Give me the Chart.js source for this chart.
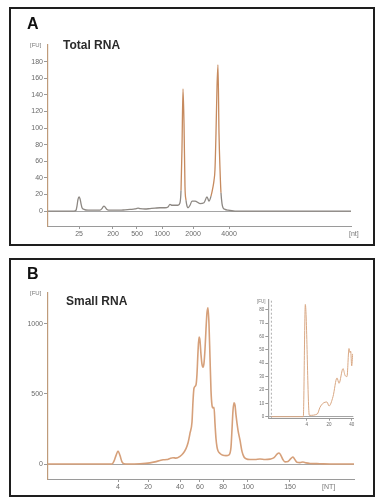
<!DOCTYPE html>
<html>
<head>
<meta charset="utf-8">
<script src="https://cdn.jsdelivr.net/npm/chart.js@4.4.1/dist/chart.umd.min.js"></script>
<style>
  html, body { margin: 0; padding: 0; background: #fff; }
  body { width: 387px; height: 502px; position: relative; overflow: hidden; font-family: "Liberation Sans", Arial, sans-serif; }
  .panel { position: absolute; left: 9px; width: 366px; height: 239px; box-sizing: border-box; border: 2px solid #1e1e1e; }
  canvas, .txt { position: absolute; }
  .txt { line-height: 1; white-space: nowrap; }
  .letter { font-weight: bold; font-size: 16px; color: #111; }
  .title { font-weight: bold; font-size: 12px; color: #2b2b2b; }
  .unit { font-size: 6px; color: #777; }
</style>
</head>
<body>
<div class="panel" style="top:7px"></div>
<div class="panel" style="top:258px"></div>

<canvas id="chartA" width="387" height="250" style="left:0;top:0"></canvas>
<canvas id="chartB" width="387" height="252" style="left:0;top:250px"></canvas>
<canvas id="chartInset" width="110" height="145" style="left:250px;top:290px"></canvas>

<div class="txt letter" style="left:27px;top:16px">A</div>
<div class="txt title" style="left:63px;top:39px">Total RNA</div>
<div class="txt unit" style="left:30px;top:42px">[FU]</div>
<div class="txt unit" style="left:349px;top:230px;font-size:7px">[nt]</div>

<div class="txt letter" style="left:27px;top:266px">B</div>
<div class="txt title" style="left:66px;top:295px">Small RNA</div>
<div class="txt unit" style="left:30px;top:290px">[FU]</div>
<div class="txt unit" style="left:322px;top:483px;font-size:7px">[NT]</div>
<div class="txt unit" style="left:257px;top:300px;font-size:4.5px">[FU]</div>

<script>
// Panel A - Total RNA electropherogram (x = migration time in s)
const xTicksA = [24.17, 29.83, 33.83, 38.0, 43.17, 49.17];
const xLabelsA = ['25', '200', '500', '1000', '2000', '4000'];
const yTicksA = [0, 20, 40, 60, 80, 100, 120, 140, 160, 180];
const timeA = [19.0, 23.33, 23.67, 23.83, 24.0, 24.17, 24.33, 24.5, 24.67, 25.0, 25.67, 27.67, 28.0, 28.17, 28.33, 28.5, 28.83, 29.33,
  31.0, 31.83, 32.67, 33.5, 34.0, 34.33, 35.17, 36.0, 36.83, 37.67, 38.5, 39.0, 39.33, 39.67, 40.17, 40.67, 41.0, 41.17, 41.33,
  41.5, 41.67, 41.83, 42.0, 42.17, 42.33, 42.67, 43.0, 43.5, 44.33, 45.0, 45.5, 45.83, 46.17, 46.5, 46.67, 46.83, 47.0, 47.17,
  47.33, 47.5, 47.67, 47.83, 48.0, 48.17, 48.5, 49.0, 50.17, 69.5];
const fuA = [0, 0, 1, 6, 14, 17, 15, 9, 4, 2, 1, 1, 3, 5, 6, 5, 2, 1,
  1, 1.5, 2, 2.5, 3.5, 3, 2.5, 3, 3.5, 4, 4, 5, 8, 7, 7, 7, 10, 25, 75,
  147, 105, 30, 13, 6, 4, 7, 12, 12, 9, 10, 17, 12, 18, 29, 37, 50, 94, 150,
  176, 94, 50, 22, 9, 4, 2, 1, 0, 0];

// Panel B - Small RNA electropherogram
const xTicksB = [30.67, 35.67, 41.0, 44.33, 48.17, 52.33, 59.33];
const xLabelsB = ['4', '20', '40', '60', '80', '100', '150'];
const yTicksB = [0, 500, 1000];
const timeB = [19.0, 29.67, 30.0, 30.33, 30.67, 31.0, 31.33, 31.67, 32.33, 34.33, 36.0, 36.83, 37.67, 38.17, 38.83, 39.33, 39.83,
  40.33, 41.0, 41.5, 42.0, 42.33, 42.67, 43.0, 43.17, 43.33, 43.67, 43.83, 44.0, 44.17, 44.33, 44.5, 44.67, 44.83, 45.0, 45.17,
  45.33, 45.5, 45.67, 45.83, 46.0, 46.17, 46.33, 46.5, 46.67, 46.83, 47.0, 47.17, 47.33, 47.67, 48.17, 48.67, 49.17, 49.5, 49.67,
  49.83, 50.0, 50.17, 50.33, 50.67, 51.0, 51.33, 51.67, 52.0, 52.67, 53.5, 54.33, 55.17, 56.0, 56.67, 57.17, 57.5, 57.83, 58.17,
  58.5, 59.0, 59.5, 59.83, 60.17, 60.5, 61.0, 61.5, 62.0, 62.67, 64.33, 66.0, 70.0];
const fuB = [0, 0, 20, 60, 93, 60, 15, 2, 0, 2, 8, 15, 25, 30, 32, 40, 45,
  42, 55, 75, 110, 150, 220, 300, 450, 540, 565, 640, 800, 905, 880, 780, 710, 690, 720, 820,
  960, 1080, 1115, 1000, 760, 520, 420, 400, 405, 290, 180, 120, 95, 75, 62, 60, 65, 120, 250,
  380, 436, 420, 350, 240, 170, 90, 50, 38, 32, 32, 36, 32, 35, 45, 70, 78, 60, 30,
  15, 18, 40, 50, 30, 12, 10, 14, 8, 4, 2, 0, 0];

// Inset - zoom on the 4-40 nt region
const xTicksIn = [30.67, 35.79, 41.0];
const xLabelsIn = ['4', '20', '40'];
const yTicksIn = [0, 10, 20, 30, 40, 50, 60, 70, 80];
const timeIn = [22.54, 29.89, 30.35, 31.27, 33.1, 33.72, 34.41, 35.33, 35.79, 36.71, 37.63, 38.09, 39.01, 39.46, 39.92, 40.38,
  40.61, 40.77, 41.0, 41.23];
const fuIn = [0, 0, 84, 1, 2, 7, 10, 11, 8, 15, 29, 25, 36, 31, 30, 51, 48, 49, 38, 47];
const insetMarkerT = 22.54;

const FONT = '"Liberation Sans", Arial, sans-serif';

function makeChart(id, c) {
  const datasets = [{
    data: c.times.map((t, i) => ({ x: t, y: c.values[i] })),
    borderColor: c.color,
    borderWidth: c.lineWidth,
    segment: c.segment,
    pointRadius: 0,
    cubicInterpolationMode: 'monotone'
  }];
  if (c.extra) datasets.push(c.extra);
  return new Chart(document.getElementById(id), {
    type: 'line',
    data: { datasets: datasets },
    options: {
      responsive: false,
      animation: false,
      layout: { padding: c.pad },
      plugins: { legend: { display: false }, tooltip: { enabled: false } },
      scales: {
        x: {
          type: 'linear', min: c.xMin, max: c.xMax,
          afterBuildTicks: s => { s.ticks = c.xTicks.map(v => ({ value: v })); },
          afterFit: s => { s.height = c.axisH; },
          ticks: { autoSkip: false, maxRotation: 0, padding: 1, color: '#6a6a6a',
            font: { size: c.fontSize, family: FONT }, callback: (v, i) => c.xLabels[i] },
          grid: { drawOnChartArea: false, tickLength: c.tickLen, color: '#9a9a9a' },
          border: { color: '#9a9a9a', width: 1 }
        },
        y: {
          min: c.yMin, max: c.yMax,
          afterBuildTicks: s => { s.ticks = c.yTicks.map(v => ({ value: v })); },
          afterFit: s => { s.width = c.axisW; },
          ticks: { padding: 1, color: '#6a6a6a', font: { size: c.fontSize, family: FONT },
            callback: v => String(v) },
          grid: { tickLength: c.tickLen + 1, tickColor: '#9a9a9a',
            color: ctx => (ctx.tick && ctx.tick.value === 0) ? '#a5a5a5' : 'rgba(0,0,0,0)' },
          border: { color: c.yAxisColor, width: 1.2 }
        }
      }
    }
  });
}

makeChart('chartA', {
  times: timeA, values: fuA, xMin: 19, xMax: 69.5, yMin: -18, yMax: 200,
  xTicks: xTicksA, xLabels: xLabelsA, yTicks: yTicksA,
  pad: { left: 0, top: 45, right: 36, bottom: 0 }, axisW: 48, axisH: 24,
  color: '#8d8883', lineWidth: 1.3, fontSize: 7, tickLen: 3, yAxisColor: '#bf9b7a',
  segment: { borderColor: s => (s.p0.parsed.y > 25 || s.p1.parsed.y > 25) ? '#c68a5e' : '#8d8883' }
});

makeChart('chartB', {
  times: timeB, values: fuB, xMin: 19, xMax: 70, yMin: -107, yMax: 1220,
  xTicks: xTicksB, xLabels: xLabelsB, yTicks: yTicksB,
  pad: { left: 0, top: 43, right: 33, bottom: 0 }, axisW: 48, axisH: 23,
  color: '#d6a07a', lineWidth: 1.6, fontSize: 7, tickLen: 3, yAxisColor: '#bf9b7a'
});

makeChart('chartInset', {
  times: timeIn, values: fuIn, xMin: 21.85, xMax: 41.37, yMin: -1.5, yMax: 87.3,
  xTicks: xTicksIn, xLabels: xLabelsIn, yTicks: yTicksIn,
  pad: { left: 0, top: 10, right: 6.7, bottom: 0 }, axisW: 18.3, axisH: 16.3,
  color: '#d9a884', lineWidth: 1, fontSize: 4.5, tickLen: 2, yAxisColor: '#a0a0a0',
  extra: {
    data: [{ x: insetMarkerT, y: -1.5 }, { x: insetMarkerT, y: 87.3 }],
    borderColor: '#9a9a9a', borderWidth: 0.8, borderDash: [2, 2], pointRadius: 0
  }
});
</script>
</body>
</html>
